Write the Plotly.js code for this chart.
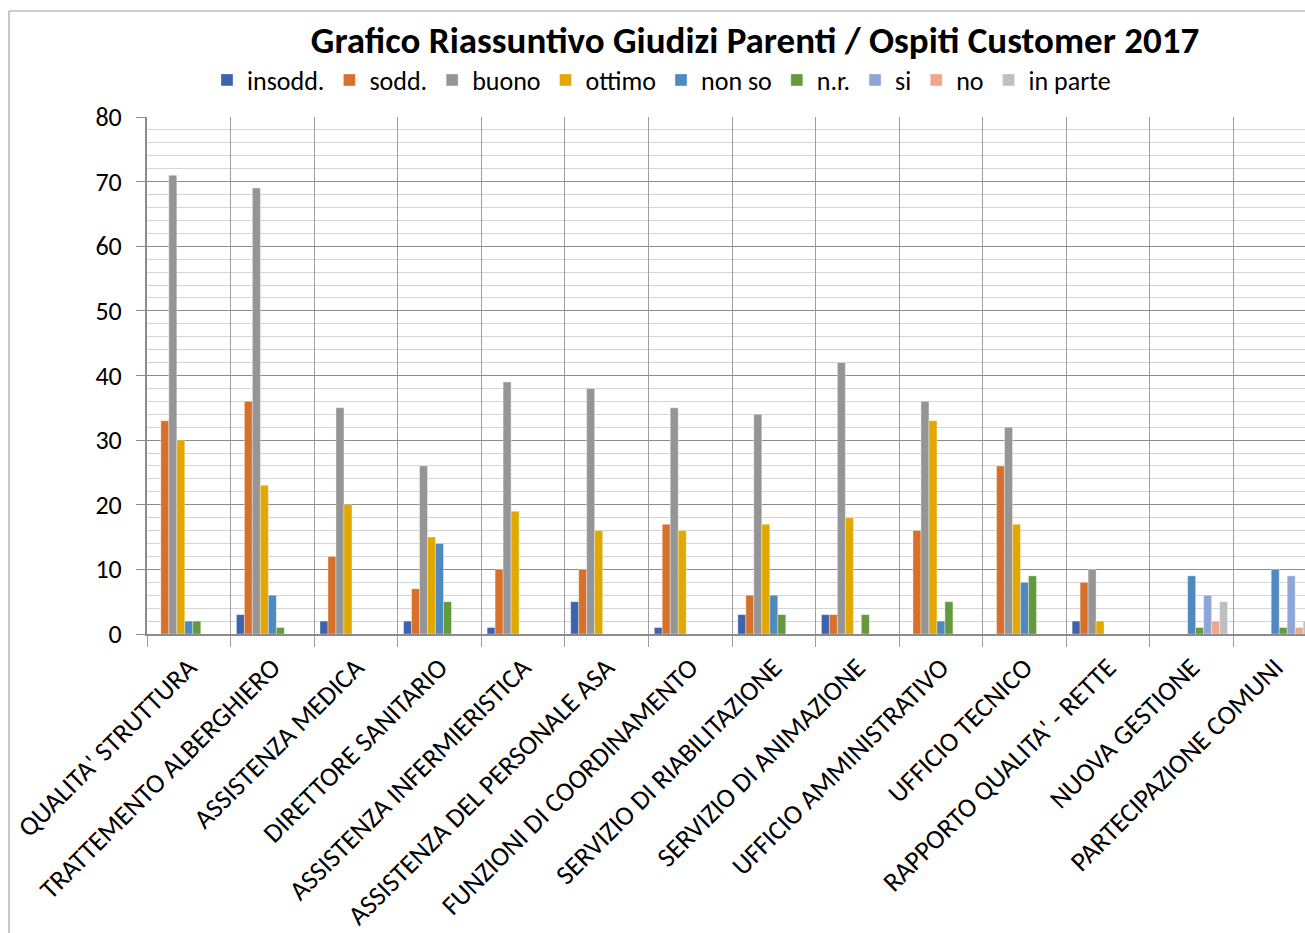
<!DOCTYPE html>
<html>
<head>
<meta charset="utf-8">
<script src="https://cdn.plot.ly/plotly-3.0.1.min.js"></script>
<style>
html,body{margin:0;padding:0;overflow:hidden;background:#fff;}
#chart{width:1345px;height:933px;}
</style>
</head>
<body>
<div id="chart"></div>
<script>
const categories = [
  "QUALITA' STRUTTURA",
  "TRATTEMENTO ALBERGHIERO",
  "ASSISTENZA MEDICA",
  "DIRETTORE SANITARIO",
  "ASSISTENZA INFERMIERISTICA",
  "ASSISTENZA DEL PERSONALE ASA",
  "FUNZIONI DI COORDINAMENTO",
  "SERVIZIO DI RIABILITAZIONE",
  "SERVIZIO DI ANIMAZIONE",
  "UFFICIO AMMINISTRATIVO",
  "UFFICIO TECNICO",
  "RAPPORTO QUALITA' - RETTE",
  "NUOVA GESTIONE",
  "PARTECIPAZIONE COMUNI"
];
const insodd  = [0, 3, 2, 2, 1, 5, 1, 3, 3, 0, 0, 2, 0, 0];
const sodd    = [33, 36, 12, 7, 10, 10, 17, 6, 3, 16, 26, 8, 0, 0];
const buono   = [71, 69, 35, 26, 39, 38, 35, 34, 42, 36, 32, 10, 0, 0];
const ottimo  = [30, 23, 20, 15, 19, 16, 16, 17, 18, 33, 17, 2, 0, 0];
const nonSo   = [2, 6, 0, 14, 0, 0, 0, 6, 0, 2, 8, 0, 9, 10];
const nr      = [2, 1, 0, 5, 0, 0, 0, 3, 3, 5, 9, 0, 1, 1];
const si      = [0, 0, 0, 0, 0, 0, 0, 0, 0, 0, 0, 0, 6, 9];
const no      = [0, 0, 0, 0, 0, 0, 0, 0, 0, 0, 0, 0, 2, 1];
const inParte = [0, 0, 0, 0, 0, 0, 0, 0, 0, 0, 0, 0, 5, 2];
const seriesNames = ["insodd.", "sodd.", "buono", "ottimo", "non so", "n.r.", "si", "no", "in parte"];
const yTicks = [0, 10, 20, 30, 40, 50, 60, 70, 80];

const seriesValues = [insodd, sodd, buono, ottimo, nonSo, nr, si, no, inParte];
const colors = ["#3d62ae", "#d6702b", "#959595", "#e0a800", "#4f89c0", "#629a3d", "#8fa5d7", "#efa68b", "#bfbfbf"];

const FONT = "Carlito, Lato, 'Open Sans', sans-serif";

const traces = seriesValues.map((vals, i) => ({
  type: "bar",
  name: seriesNames[i],
  x: categories,
  y: vals,
  marker: {color: colors[i], line: {color: "rgba(255,255,255,0.6)", width: 0.6}},
  hoverinfo: "x+y+name"
}));

const W = 1345, H = 933;
const plotL = 147, plotR = 1317, plotT = 117, plotB = 634;
const pw = plotR - plotL, ph = plotB - plotT;
const px = v => (v - plotL) / pw;
const py = v => (plotB - v) / ph;

const layout = {
  width: W, height: H,
  margin: {l: plotL, r: W - plotR, t: plotT, b: H - plotB, pad: 0},
  paper_bgcolor: "#fff",
  plot_bgcolor: "#fff",
  barmode: "group",
  bargap: 0.14,
  bargroupgap: 0,
  showlegend: true,
  font: {family: FONT, color: "#000"},
  title: {
    text: "<b>Grafico Riassuntivo Giudizi Parenti / Ospiti Customer 2017</b>",
    font: {family: FONT, size: 37, color: "#000"},
    x: px(755), xref: "paper", xanchor: "center",
    y: 1 - 40 / H, yref: "container", yanchor: "middle"
  },
  legend: {
    orientation: "h",
    x: px(207), xanchor: "left",
    y: py(80), yanchor: "middle",
    font: {family: FONT, size: 26, color: "#000"},
    itemwidth: 30,
    traceorder: "normal",
    bgcolor: "rgba(0,0,0,0)"
  },
  xaxis: {
    type: "category",
    categoryorder: "array",
    categoryarray: categories,
    tickson: "boundaries",
    showgrid: true,
    gridcolor: "#9e9e9e",
    gridwidth: 1.4,
    ticks: "outside",
    ticklen: 11,
    tickcolor: "#9e9e9e",
    tickwidth: 1.4,
    tickangle: -45,
    ticklabelstandoff: 5,
    tickfont: {family: FONT, size: 27, color: "#000"},
    showline: true,
    linecolor: "#8c8c8c",
    linewidth: 2,
    zeroline: false,
    fixedrange: true
  },
  yaxis: {
    range: [0, 80],
    tickvals: yTicks,
    ticktext: yTicks.map(String),
    showgrid: true,
    gridcolor: "#8c8c8c",
    gridwidth: 1.3,
    minor: {dtick: 2, tick0: 0, showgrid: true, gridcolor: "#d4d4d4", gridwidth: 1.3, ticks: ""},
    ticks: "outside",
    ticklen: 9,
    tickcolor: "#8c8c8c",
    tickwidth: 1.3,
    ticklabelstandoff: 9,
    tickfont: {family: FONT, size: 26, color: "#000"},
    showline: true,
    linecolor: "#8c8c8c",
    linewidth: 2,
    zeroline: false,
    fixedrange: true
  },
  shapes: [
    {type: "line", xref: "paper", yref: "paper", x0: px(9), x1: px(9), y0: py(950), y1: py(11),
     line: {color: "#a0a0a0", width: 1.2}, layer: "above"},
    {type: "line", xref: "paper", yref: "paper", x0: px(9), x1: px(1345), y0: py(11), y1: py(11),
     line: {color: "#a0a0a0", width: 1.2}, layer: "above"}
  ]
};

Plotly.newPlot("chart", traces, layout, {displayModeBar: false, staticPlot: false});
</script>
</body>
</html>
